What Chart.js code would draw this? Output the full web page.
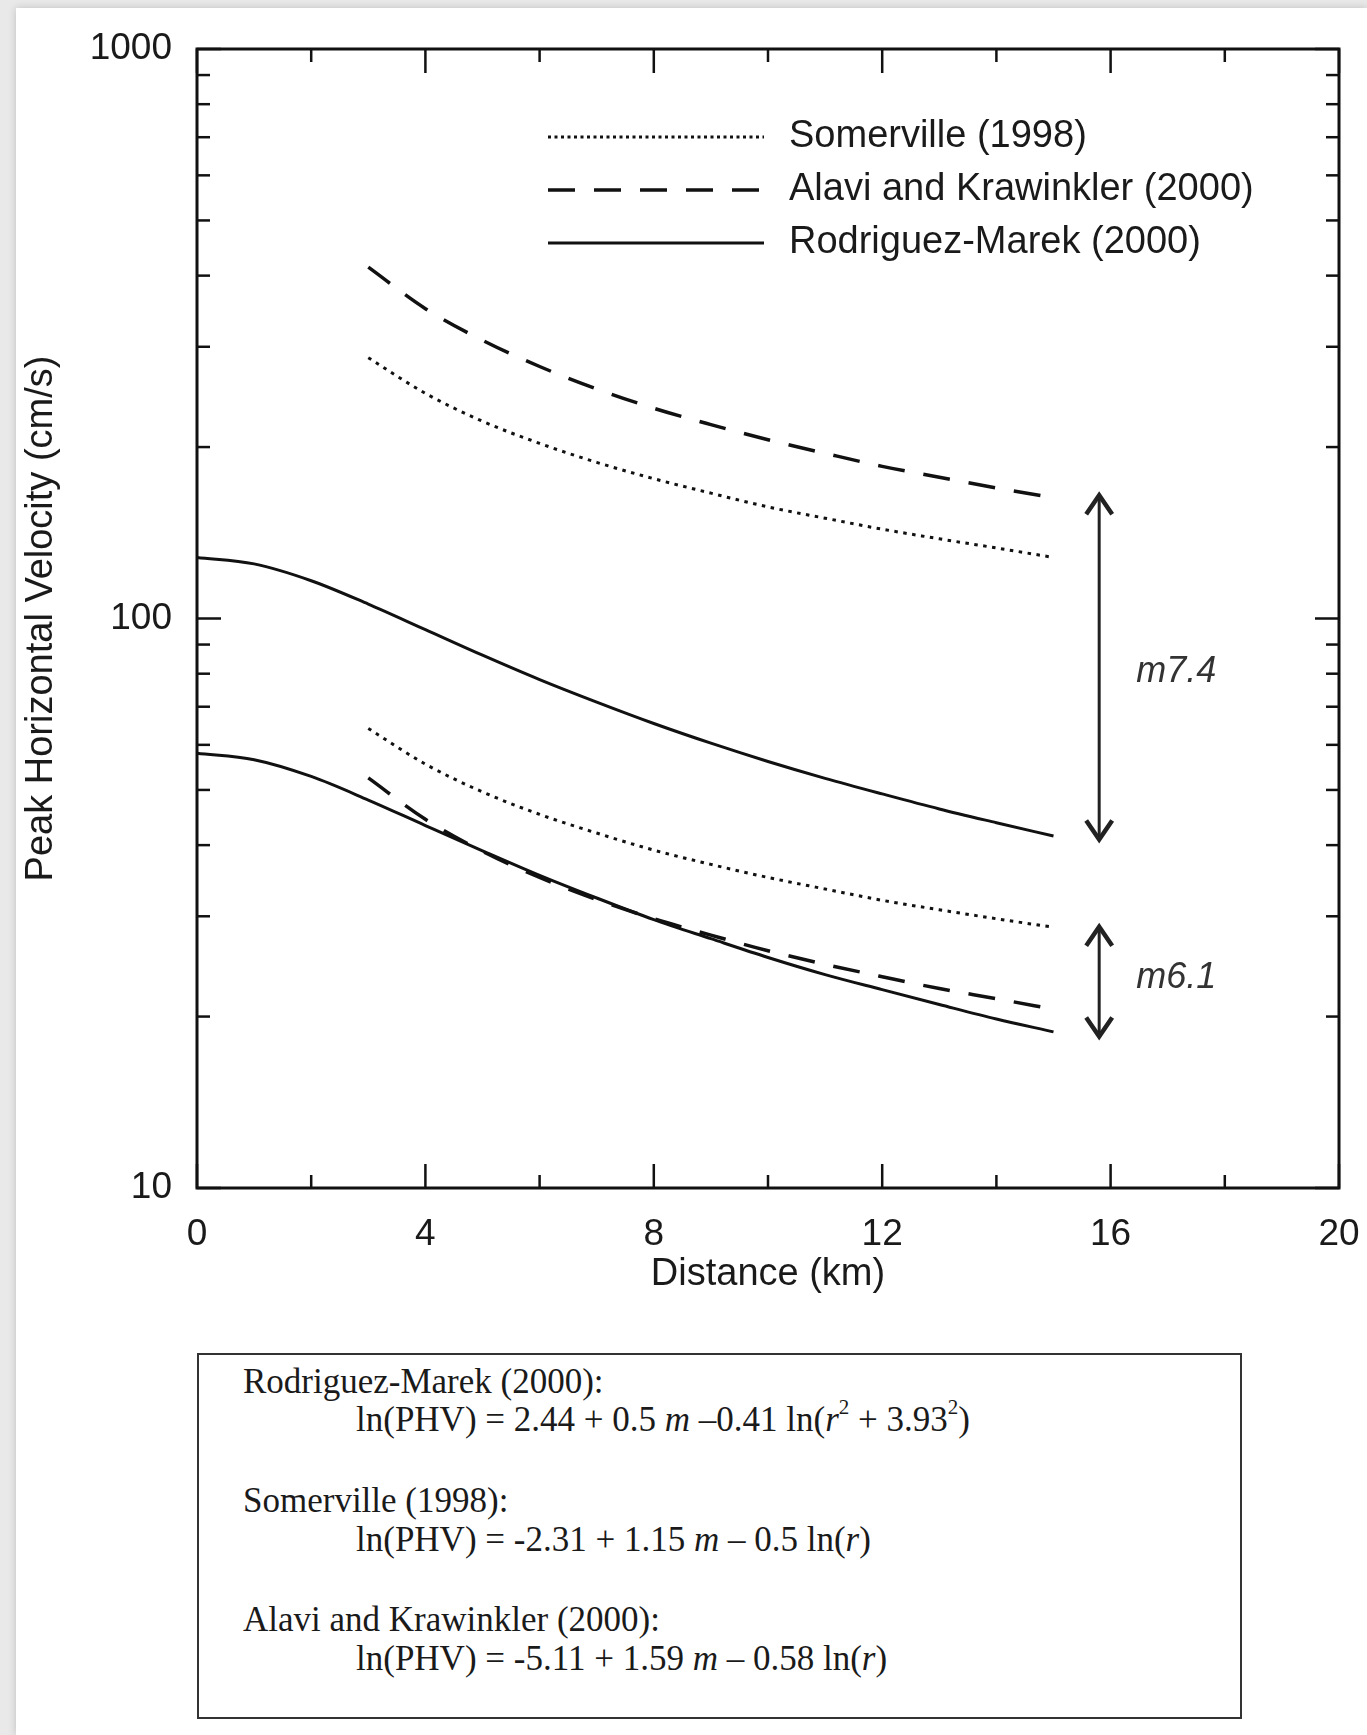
<!DOCTYPE html>
<html>
<head>
<meta charset="utf-8">
<script src="https://cdn.jsdelivr.net/npm/chart.js@4.4.0/dist/chart.umd.min.js"></script>
<style>
  html, body { margin:0; padding:0; }
  body { width:1367px; height:1735px; background:#e9e9e9; position:relative; overflow:hidden; }
  #card { position:absolute; left:16px; top:8px; right:0; bottom:0; background:#fff; box-shadow:0 0 8px rgba(0,0,0,0.18); }
  #wrap { position:absolute; left:0; top:0; width:1367px; height:1300px; }
  #eqbox { position:absolute; left:197px; top:1353px; width:1041px; height:362px; border:2.5px solid #333; background:#fff; }
  .eq { position:absolute; font-family:"Liberation Serif","Times New Roman",serif; font-size:35px; line-height:40px; color:#1a1a1a; white-space:nowrap; }
  .eq sup { font-size:60%; line-height:0; position:relative; top:-0.2em; vertical-align:super; }
</style>
</head>
<body>
<div id="card"></div>
<div id="wrap"><canvas id="c"></canvas></div>
<div id="eqbox"></div>
<div class="eq" style="left:243px; top:1362px;">Rodriguez-Marek (2000):</div>
<div class="eq" style="left:356px; top:1400px;">ln(PHV) = 2.44 + 0.5 <i>m</i> –0.41 ln(<i>r</i><sup>2</sup> + 3.93<sup>2</sup>)</div>
<div class="eq" style="left:243px; top:1481px;">Somerville (1998):</div>
<div class="eq" style="left:356px; top:1520px;">ln(PHV) = -2.31 + 1.15 <i>m</i> – 0.5 ln(<i>r</i>)</div>
<div class="eq" style="left:243px; top:1600px;">Alavi and Krawinkler (2000):</div>
<div class="eq" style="left:356px; top:1639px;">ln(PHV) = -5.11 + 1.59 <i>m</i> – 0.58 ln(<i>r</i>)</div>
<script>
// ---- data ----
const distRM = [0,1,2,3,4,5,6,7,8,9,10,11,12,13,14,15];
const rodriguezM74 = [128,124.7,116.5,106,95.6,86.2,78.1,71.3,65.4,60.4,56.1,52.4,49.2,46.3,43.8,41.5];
const rodriguezM61 = [58,56.5,52.8,48.0,43.3,39.1,35.4,32.3,29.6,27.4,25.4,23.7,22.3,21.0,19.8,18.8];
const distSA = [3,4,5,6,7,8,9,10,11,12,13,14,15];
const somervilleM74 = [287,248.5,222,203,188,176,166,157,150,143.5,138,133,128];
const somervilleM61 = [64.1,55.5,49.6,45.3,42.0,39.2,37.0,35.1,33.5,32.0,30.8,29.7,28.7];
const alaviM74 = [414,350,308,277,253,234,219,206,195,185,177,169.5,163];
const alaviM61 = [52.5,44.4,39.0,35.1,32.1,29.7,27.8,26.1,24.7,23.5,22.4,21.5,20.6];

const legendLabels = ['Somerville (1998)','Alavi and Krawinkler (2000)','Rodriguez-Marek (2000)'];
const yLabelTicks = [10,100,1000];
const yMinorTicks = [20,30,40,50,60,70,80,90,200,300,400,500,600,700,800,900];
const xMajorTicks = [0,4,8,12,16,20];
const xMinorTicks = [2,6,10,14,18];

const arrowX = [15.8, 15.8];
const arrowTop = [166, 29];
const arrowBottom = [40.6, 18.3];
const magLabels = ['m7.4','m6.1'];
const magLabelX = [16.45, 16.45];
const magLabelY = [80.5, 23.4];

const DOT = [3.5,5.5], DASH = [27,19];
const pts = (xs, ys) => xs.map((v,i)=>({x:v, y:ys[i]}));

function ds(label, xs, ys, dash, w){
  return { label, data: pts(xs,ys), borderColor:'#111', borderWidth:w, borderDash:dash,
           pointRadius:0, fill:false, cubicInterpolationMode:'monotone' };
}

const plotDecor = {
  id:'plotDecor',
  afterDatasetsDraw(chart){
    const {ctx, chartArea:a, scales:{x, y}} = chart;
    ctx.save();
    ctx.strokeStyle = '#111';
    ctx.lineCap = 'butt';
    const seg = (x1,y1,x2,y2)=>{ ctx.beginPath(); ctx.moveTo(x1,y1); ctx.lineTo(x2,y2); ctx.stroke(); };
    ctx.lineWidth = 2.5;
    xMajorTicks.forEach(v=>{ const p=x.getPixelForValue(v); seg(p,a.bottom,p,a.bottom-24); seg(p,a.top,p,a.top+24); });
    xMinorTicks.forEach(v=>{ const p=x.getPixelForValue(v); seg(p,a.bottom,p,a.bottom-13); seg(p,a.top,p,a.top+13); });
    yLabelTicks.forEach(v=>{ const p=y.getPixelForValue(v); seg(a.left,p,a.left+24,p); seg(a.right,p,a.right-24,p); });
    yMinorTicks.forEach(v=>{ const p=y.getPixelForValue(v); seg(a.left,p,a.left+13,p); seg(a.right,p,a.right-13,p); });
    ctx.lineWidth = 3;
    ctx.strokeRect(a.left, a.top, a.right-a.left, a.bottom-a.top);

    // legend
    const dashes = [[3,3.5], DASH, []];
    const widths = [3, 3.5, 3];
    const rowsY = [137, 190, 243];
    ctx.font = '38px "Liberation Sans", Arial, sans-serif';
    ctx.fillStyle = '#1a1a1a';
    ctx.textBaseline = 'middle';
    ctx.textAlign = 'left';
    legendLabels.forEach((t,i)=>{
      ctx.setLineDash(dashes[i]); ctx.lineWidth = widths[i];
      seg(548, rowsY[i], 764, rowsY[i]);
      ctx.setLineDash([]);
      ctx.fillText(t, 789, rowsY[i]);
    });

    // magnitude arrows
    ctx.setLineDash([]);
    arrowX.forEach((xv,i)=>{
      const px = x.getPixelForValue(xv);
      const t = y.getPixelForValue(arrowTop[i]);
      const b = y.getPixelForValue(arrowBottom[i]);
      ctx.strokeStyle = '#222';
      ctx.lineWidth = 3;
      seg(px, t+3, px, b-3);
      ctx.lineWidth = 4.5;
      ctx.lineJoin = 'miter';
      ctx.beginPath(); ctx.moveTo(px-13, t+21); ctx.lineTo(px, t+2); ctx.lineTo(px+13, t+21); ctx.stroke();
      ctx.beginPath(); ctx.moveTo(px-13, b-21); ctx.lineTo(px, b-2); ctx.lineTo(px+13, b-21); ctx.stroke();
      ctx.font = 'italic 36px "Liberation Sans", Arial, sans-serif';
      ctx.fillStyle = '#333';
      ctx.fillText(magLabels[i], x.getPixelForValue(magLabelX[i]), y.getPixelForValue(magLabelY[i]));
    });
    ctx.restore();
  }
};

const tickFont = { family:'"Liberation Sans", Arial, sans-serif', size:37 };
new Chart(document.getElementById('c'), {
  type:'line',
  data:{ datasets:[
    ds('Somerville (1998) m7.4', distSA, somervilleM74, DOT, 3),
    ds('Alavi and Krawinkler (2000) m7.4', distSA, alaviM74, DASH, 3.5),
    ds('Rodriguez-Marek (2000) m7.4', distRM, rodriguezM74, [], 3),
    ds('Somerville (1998) m6.1', distSA, somervilleM61, DOT, 3),
    ds('Alavi and Krawinkler (2000) m6.1', distSA, alaviM61, DASH, 3.5),
    ds('Rodriguez-Marek (2000) m6.1', distRM, rodriguezM61, [], 3)
  ]},
  options:{
    responsive:true, maintainAspectRatio:false, animation:false,
    layout:{ padding:{ left:0, top:49, right:28, bottom:0 } },
    plugins:{ legend:{display:false}, tooltip:{enabled:false} },
    scales:{
      x:{ type:'linear', min:0, max:20,
          ticks:{ stepSize:4, font:tickFont, color:'#1a1a1a', padding:25, maxRotation:0 },
          grid:{ display:false, drawTicks:false }, border:{ display:false },
          title:{ display:true, text:'Distance (km)', font:{ family:tickFont.family, size:38 }, color:'#1a1a1a', padding:{top:0,bottom:3} },
          afterFit(s){ s.height = 112; s.paddingLeft = 0; s.paddingRight = 0; } },
      y:{ type:'logarithmic', min:10, max:1000,
          afterBuildTicks(s){ s.ticks = yLabelTicks.map(v=>({value:v})); },
          ticks:{ font:tickFont, color:'#1a1a1a', padding:25, callback:(v)=>String(v) },
          grid:{ display:false, drawTicks:false }, border:{ display:false },
          title:{ display:true, text:'Peak Horizontal Velocity (cm/s)', font:{ family:tickFont.family, size:38 }, color:'#1a1a1a', padding:{top:19,bottom:0} },
          afterFit(s){ s.width = 197; s.paddingTop = 0; s.paddingBottom = 0; } }
    }
  },
  plugins:[plotDecor]
});
</script>
</body>
</html>
